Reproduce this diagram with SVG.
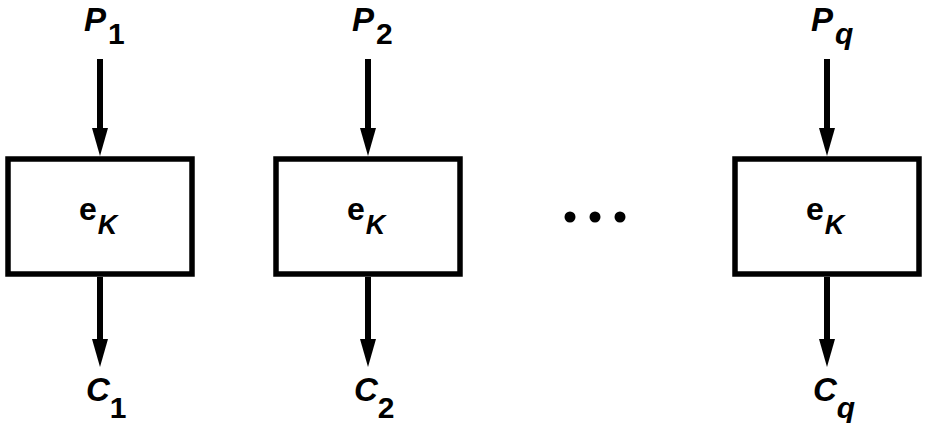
<svg xmlns="http://www.w3.org/2000/svg" width="928" height="423" viewBox="0 0 928 423">
<style>
.box{fill:#fff;stroke:#000;stroke-width:5.5}
.ln{stroke:#000;stroke-width:6;fill:none}
.t{font-family:"Liberation Sans",Arial,sans-serif;font-size:33px;font-weight:bold;fill:#000}
.e{font-size:32px}
.i{font-style:italic}
</style>
<defs>
<marker id="ah" markerUnits="userSpaceOnUse" markerWidth="28" markerHeight="16" refX="0" refY="8" viewBox="0 0 28 16" orient="auto">
<path d="M0,0 L28,8 L0,16 Z" fill="#000"/>
</marker>
</defs>
<g id="connectors">
<line class="ln" x1="100" y1="59" x2="100" y2="128" marker-end="url(#ah)"/>
<line class="ln" x1="100" y1="277" x2="100" y2="339" marker-end="url(#ah)"/>
<line class="ln" x1="368" y1="59" x2="368" y2="128" marker-end="url(#ah)"/>
<line class="ln" x1="368" y1="277" x2="368" y2="339" marker-end="url(#ah)"/>
<line class="ln" x1="827" y1="59" x2="827" y2="128" marker-end="url(#ah)"/>
<line class="ln" x1="827" y1="277" x2="827" y2="339" marker-end="url(#ah)"/>
</g>
<g id="node1">
<rect class="box" x="8" y="159" width="184" height="115"/>
<text class="t e" x="79" y="220">e<tspan class="i" font-size="27" dy="14" dx="1">K</tspan></text>
</g>
<g id="node2">
<rect class="box" x="276" y="159" width="184" height="115"/>
<text class="t e" x="347" y="220">e<tspan class="i" font-size="27" dy="14" dx="1">K</tspan></text>
</g>
<g id="node3">
<rect class="box" x="735" y="159" width="184" height="115"/>
<text class="t e" x="806" y="220">e<tspan class="i" font-size="27" dy="14" dx="1">K</tspan></text>
</g>
<g id="labels">
<text class="t" x="84" y="30.5"><tspan class="i">P</tspan><tspan font-size="30" dy="13" dx="2">1</tspan></text>
<text class="t" x="352" y="30.5"><tspan class="i">P</tspan><tspan font-size="30" dy="13" dx="2">2</tspan></text>
<text class="t" x="811" y="30.5"><tspan class="i">P</tspan><tspan class="i" font-size="30" dy="13" dx="2">q</tspan></text>
<text class="t" x="86" y="401"><tspan class="i">C</tspan><tspan font-size="30" dy="16.5" dx="0">1</tspan></text>
<text class="t" x="354" y="401"><tspan class="i">C</tspan><tspan font-size="30" dy="16.5" dx="0">2</tspan></text>
<text class="t" x="813" y="401"><tspan class="i">C</tspan><tspan class="i" font-size="30" dy="16.5" dx="0">q</tspan></text>
</g>
<g id="ellipsis">
<circle cx="570" cy="217" r="5.5"/>
<circle cx="595" cy="217" r="5.5"/>
<circle cx="620" cy="217" r="5.5"/>
</g>
</svg>
